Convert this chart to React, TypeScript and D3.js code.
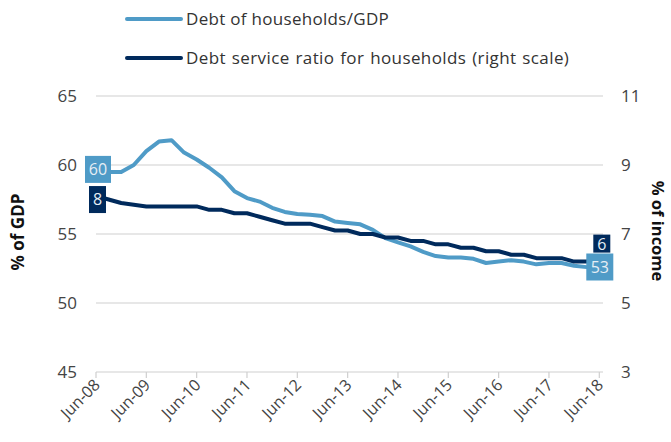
import React from "react";
import * as d3 from "d3";

const xTickLabels = ["Jun-08","Jun-09","Jun-10","Jun-11","Jun-12","Jun-13","Jun-14","Jun-15","Jun-16","Jun-17","Jun-18"];
const debtGdp = [59.5,59.5,59.5,60.0,61.0,61.7,61.8,60.9,60.4,59.8,59.1,58.1,57.6,57.35,56.9,56.6,56.45,56.4,56.3,55.9,55.8,55.7,55.3,54.7,54.4,54.1,53.7,53.4,53.3,53.3,53.2,52.9,53.0,53.1,53.0,52.8,52.9,52.9,52.7,52.6,52.5];
const serviceRatio = [8.1,8.0,7.9,7.85,7.8,7.8,7.8,7.8,7.8,7.7,7.7,7.6,7.6,7.5,7.4,7.3,7.3,7.3,7.2,7.1,7.1,7.0,7.0,6.9,6.9,6.8,6.8,6.7,6.7,6.6,6.6,6.5,6.5,6.4,6.4,6.3,6.3,6.3,6.2,6.2,6.2];
const leftTicks = [45,50,55,60,65];
const rightTicks = [3,5,7,9,11];
const seriesNames = ["Debt of households/GDP","Debt service ratio for households (right scale)"];
const startLabels = ["60","8"];
const endLabels = ["53","6"];

const LIGHT = "#4f9bc7";
const DARK = "#002a5c";
const FONT = "'Open Sans', 'Liberation Sans', sans-serif";

export default function App() {
  const W = 671, H = 442;
  const x = d3.scaleLinear().domain([0, 40]).range([96, 599.3]);
  const yL = d3.scaleLinear().domain([45, 65]).range([372, 96]);
  const yR = d3.scaleLinear().domain([3, 11]).range([372, 96]);
  const lineL = d3.line<number>().x((_, i) => x(i)).y(d => yL(d));
  const lineR = d3.line<number>().x((_, i) => x(i)).y(d => yR(d));
  const n = debtGdp.length;

  return (
    <svg width={W} height={H} style={{ position: "absolute", left: 0, top: 0 }} fontFamily={FONT}>
      <rect width={W} height={H} fill="#fff" />
      {/* legend */}
      <line x1={127} x2={181} y1={19} y2={19} stroke={LIGHT} strokeWidth={4} strokeLinecap="round" />
      <text x={186} y={25} fontSize={17} letterSpacing={0.3} fill="#333">{seriesNames[0]}</text>
      <line x1={127} x2={181} y1={58} y2={58} stroke={DARK} strokeWidth={4} strokeLinecap="round" />
      <text x={186} y={64} fontSize={17} letterSpacing={0.4} wordSpacing={1} fill="#333">{seriesNames[1]}</text>

      {/* gridlines */}
      {leftTicks.map(t => (
        <line key={t} x1={96} x2={603} y1={yL(t)} y2={yL(t)} stroke="#cfcfcf" strokeWidth={1.2} />
      ))}
      {xTickLabels.map((lab, k) => (
        <g key={lab}>
          <line x1={x(k * 4)} x2={x(k * 4)} y1={372} y2={378} stroke="#cfcfcf" strokeWidth={1.2} />
          <text transform={`translate(${x(k * 4) + 5},${386}) rotate(-45)`} textAnchor="end" fontSize={16} fill="#444">{lab}</text>
        </g>
      ))}
      {leftTicks.map(t => (
        <text key={t} x={77} y={yL(t) + 6} textAnchor="end" fontSize={17} fill="#444">{t}</text>
      ))}
      {rightTicks.map(t => (
        <text key={t} x={621} y={yR(t) + 6} textAnchor="start" fontSize={17} fill="#444">{t}</text>
      ))}
      <text transform={`translate(23.5,232) rotate(-90)`} textAnchor="middle" fontSize={17} fontWeight="bold" fill="#111">% of GDP</text>
      <text transform={`translate(652,231) rotate(90)`} textAnchor="middle" fontSize={16.5} fontWeight="bold" fill="#111">% of income</text>

      {/* lines */}
      <path d={lineL(debtGdp) || ""} fill="none" stroke={LIGHT} strokeWidth={4} strokeLinejoin="round" />
      <path d={lineR(serviceRatio) || ""} fill="none" stroke={DARK} strokeWidth={4} strokeLinejoin="round" />

      {/* start labels */}
      <rect x={x(0) - 11} y={yL(debtGdp[0]) - 16} width={26} height={27} fill={LIGHT} />
      <text x={x(0) + 2} y={yL(debtGdp[0]) + 3} textAnchor="middle" fontSize={16} fill="#e6eef5">{startLabels[0]}</text>
      <rect x={x(0) - 7} y={yR(serviceRatio[0]) - 10} width={17} height={27} fill={DARK} />
      <text x={x(0) + 1.5} y={yR(serviceRatio[0]) + 9} textAnchor="middle" fontSize={16} fill="#e6eef5">{startLabels[1]}</text>
      {/* end labels */}
      <rect x={x(n - 1) - 6} y={yR(serviceRatio[n - 1]) - 27} width={17} height={18} fill={DARK} />
      <text x={x(n - 1) + 2.5} y={yR(serviceRatio[n - 1]) - 12} textAnchor="middle" fontSize={16} fill="#e6eef5">{endLabels[1]}</text>
      <rect x={x(n - 1) - 13} y={yL(debtGdp[n - 1]) - 15} width={27} height={27} fill={LIGHT} />
      <text x={x(n - 1) + 0.5} y={yL(debtGdp[n - 1]) + 4} textAnchor="middle" fontSize={16} fill="#e6eef5">{endLabels[0]}</text>
    </svg>
  );
}
